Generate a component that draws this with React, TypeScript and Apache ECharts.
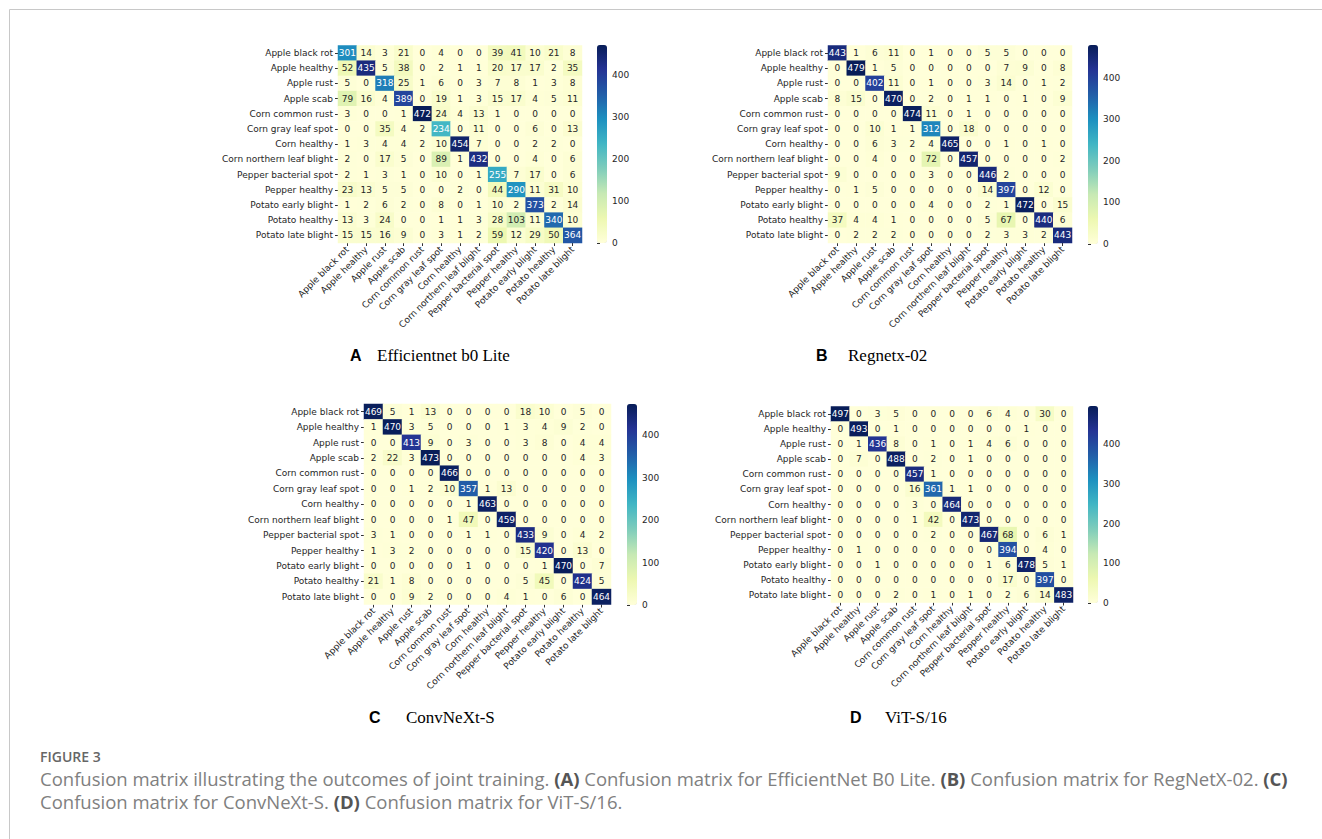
import React, { useEffect, useRef } from "react";
import * as echarts from "echarts";

const CATEGORIES = [
  "Apple black rot", "Apple healthy", "Apple rust", "Apple scab", "Corn common rust",
  "Corn gray leaf spot", "Corn healthy", "Corn northern leaf blight", "Pepper bacterial spot",
  "Pepper healthy", "Potato early blight", "Potato healthy", "Potato late blight",
];

const MATRIX_A = [
  [301, 14, 3, 21, 0, 4, 0, 0, 39, 41, 10, 21, 8],
  [52, 435, 5, 38, 0, 2, 1, 1, 20, 17, 17, 2, 35],
  [5, 0, 318, 25, 1, 6, 0, 3, 7, 8, 1, 3, 8],
  [79, 16, 4, 389, 0, 19, 1, 3, 15, 17, 4, 5, 11],
  [3, 0, 0, 1, 472, 24, 4, 13, 1, 0, 0, 0, 0],
  [0, 0, 35, 4, 2, 234, 0, 11, 0, 0, 6, 0, 13],
  [1, 3, 4, 4, 2, 10, 454, 7, 0, 0, 2, 2, 0],
  [2, 0, 17, 5, 0, 89, 1, 432, 0, 0, 4, 0, 6],
  [2, 1, 3, 1, 0, 10, 0, 1, 255, 7, 17, 0, 6],
  [23, 13, 5, 5, 0, 0, 2, 0, 44, 290, 11, 31, 10],
  [1, 2, 6, 2, 0, 8, 0, 1, 10, 2, 373, 2, 14],
  [13, 3, 24, 0, 0, 1, 1, 3, 28, 103, 11, 340, 10],
  [15, 15, 16, 9, 0, 3, 1, 2, 59, 12, 29, 50, 364],
];

const MATRIX_B = [
  [443, 1, 6, 11, 0, 1, 0, 0, 5, 5, 0, 0, 0],
  [0, 479, 1, 5, 0, 0, 0, 0, 0, 7, 9, 0, 8],
  [0, 0, 402, 11, 0, 1, 0, 0, 3, 14, 0, 1, 2],
  [8, 15, 0, 470, 0, 2, 0, 1, 1, 0, 1, 0, 9],
  [0, 0, 0, 0, 474, 11, 0, 1, 0, 0, 0, 0, 0],
  [0, 0, 10, 1, 1, 312, 0, 18, 0, 0, 0, 0, 0],
  [0, 0, 6, 3, 2, 4, 465, 0, 0, 1, 0, 1, 0],
  [0, 0, 4, 0, 0, 72, 0, 457, 0, 0, 0, 0, 2],
  [9, 0, 0, 0, 0, 3, 0, 0, 446, 2, 0, 0, 0],
  [0, 1, 5, 0, 0, 0, 0, 0, 14, 397, 0, 12, 0],
  [0, 0, 0, 0, 0, 4, 0, 0, 2, 1, 472, 0, 15],
  [37, 4, 4, 1, 0, 0, 0, 0, 5, 67, 0, 440, 6],
  [0, 2, 2, 2, 0, 0, 0, 0, 2, 3, 3, 2, 443],
];

const MATRIX_C = [
  [469, 5, 1, 13, 0, 0, 0, 0, 18, 10, 0, 5, 0],
  [1, 470, 3, 5, 0, 0, 0, 1, 3, 4, 9, 2, 0],
  [0, 0, 413, 9, 0, 3, 0, 0, 3, 8, 0, 4, 4],
  [2, 22, 3, 473, 0, 0, 0, 0, 0, 0, 0, 4, 3],
  [0, 0, 0, 0, 466, 0, 0, 0, 0, 0, 0, 0, 0],
  [0, 0, 1, 2, 10, 357, 1, 13, 0, 0, 0, 0, 0],
  [0, 0, 0, 0, 0, 1, 463, 0, 0, 0, 0, 0, 0],
  [0, 0, 0, 0, 1, 47, 0, 459, 0, 0, 0, 0, 0],
  [3, 1, 0, 0, 0, 1, 1, 0, 433, 9, 0, 4, 2],
  [1, 3, 2, 0, 0, 0, 0, 0, 15, 420, 0, 13, 0],
  [0, 0, 0, 0, 0, 1, 0, 0, 0, 1, 470, 0, 7],
  [21, 1, 8, 0, 0, 0, 0, 0, 5, 45, 0, 424, 5],
  [0, 0, 9, 2, 0, 0, 0, 4, 1, 0, 6, 0, 464],
];

const MATRIX_D = [
  [497, 0, 3, 5, 0, 0, 0, 0, 6, 4, 0, 30, 0],
  [0, 493, 0, 1, 0, 0, 0, 0, 0, 0, 1, 0, 0],
  [0, 1, 436, 8, 0, 1, 0, 1, 4, 6, 0, 0, 0],
  [0, 7, 0, 488, 0, 2, 0, 1, 0, 0, 0, 0, 0],
  [0, 0, 0, 0, 457, 1, 0, 0, 0, 0, 0, 0, 0],
  [0, 0, 0, 0, 16, 361, 1, 1, 0, 0, 0, 0, 0],
  [0, 0, 0, 0, 3, 0, 464, 0, 0, 0, 0, 0, 0],
  [0, 0, 0, 0, 1, 42, 0, 473, 0, 0, 0, 0, 0],
  [0, 0, 0, 0, 0, 2, 0, 0, 467, 68, 0, 6, 1],
  [0, 1, 0, 0, 0, 0, 0, 0, 0, 394, 0, 4, 0],
  [0, 0, 1, 0, 0, 0, 0, 0, 1, 6, 478, 5, 1],
  [0, 0, 0, 0, 0, 0, 0, 0, 0, 17, 0, 397, 0],
  [0, 0, 0, 2, 0, 1, 0, 1, 0, 2, 6, 14, 483],
];

const COLORBAR_TICKS = [0, 100, 200, 300, 400];

const PANEL_LETTERS = ["A", "B", "C", "D"];
const PANEL_NAMES = ["Efficientnet b0 Lite", "Regnetx-02", "ConvNeXt-S", "ViT-S/16"];

const CAPTION_TITLE = "FIGURE 3";
const CAPTION_LINE_1 =
  "Confusion matrix illustrating the outcomes of joint training. {b|(A)} Confusion matrix for EfficientNet B0 Lite. {b|(B)} Confusion matrix for RegNetX-02. {b|(C)}";
const CAPTION_LINE_2 = "Confusion matrix for ConvNeXt-S. {b|(D)} Confusion matrix for ViT-S/16.";

// layout (styling only)
const LAYOUT = [
  { grid: { left: 338, top: 45.5, width: 244, height: 197.5 }, cbar: { left: 597, top: 45, height: 198 }, letterX: 350, nameX: 377, labelY: 355 },
  { grid: { left: 828, top: 45.5, width: 244, height: 197.5 }, cbar: { left: 1088, top: 45, height: 199 }, letterX: 816, nameX: 848, labelY: 355 },
  { grid: { left: 364, top: 404, width: 247, height: 200.5 }, cbar: { left: 627, top: 404, height: 201 }, letterX: 369, nameX: 406, labelY: 717 },
  { grid: { left: 831, top: 406.5, width: 242, height: 196 }, cbar: { left: 1088, top: 406, height: 197 }, letterX: 850, nameX: 885, labelY: 717 },
];

const YLGNBU = ["#ffffd9", "#edf8b1", "#c7e9b4", "#7fcdbb", "#41b6c4", "#1d91c0", "#225ea8", "#253494", "#081d58"];

const FONT = "DejaVu Sans";

function hexToRgb(h: string) {
  return [parseInt(h.slice(1, 3), 16), parseInt(h.slice(3, 5), 16), parseInt(h.slice(5, 7), 16)];
}

function cmap(t: number) {
  const tt = Math.max(0, Math.min(1, t)) * (YLGNBU.length - 1);
  const i = Math.min(Math.floor(tt), YLGNBU.length - 2);
  const f = tt - i;
  const a = hexToRgb(YLGNBU[i]);
  const b = hexToRgb(YLGNBU[i + 1]);
  return a.map((v, k) => v + (b[k] - v) * f);
}

function textColor(v: number, max: number) {
  const rgb = cmap(v / max).map((c) => {
    const s = c / 255;
    return s <= 0.03928 ? s / 12.92 : Math.pow((s + 0.055) / 1.055, 2.4);
  });
  const lum = 0.2126 * rgb[0] + 0.7152 * rgb[1] + 0.0722 * rgb[2];
  return lum > 0.408 ? "#262626" : "#ffffff";
}

const MATRICES = [MATRIX_A, MATRIX_B, MATRIX_C, MATRIX_D];

function buildOption() {
  const grids: any[] = [];
  const xAxes: any[] = [];
  const yAxes: any[] = [];
  const series: any[] = [];
  const visualMaps: any[] = [];
  const graphics: any[] = [];

  MATRICES.forEach((m, i) => {
    const L = LAYOUT[i];
    const max = Math.max(...m.map((r) => Math.max(...r)));
    grids.push({ ...L.grid, containLabel: false });
    xAxes.push({
      type: "category",
      gridIndex: i,
      data: CATEGORIES,
      axisLine: { show: false },
      axisTick: { show: true, alignWithLabel: true, length: 3, lineStyle: { color: "#333", width: 1 } },
      axisLabel: { interval: 0, rotate: 45, fontSize: 9, fontFamily: FONT, color: "#262626", margin: 5 },
      splitLine: { show: false },
      splitArea: { show: false },
    });
    yAxes.push({
      type: "category",
      gridIndex: i,
      data: CATEGORIES,
      inverse: true,
      axisLine: { show: false },
      axisTick: { show: true, alignWithLabel: true, length: 3, lineStyle: { color: "#333", width: 1 } },
      axisLabel: { interval: 0, fontSize: 9, fontFamily: FONT, color: "#262626", margin: 5 },
      splitLine: { show: false },
      splitArea: { show: false },
    });
    const data: any[] = [];
    m.forEach((row, r) =>
      row.forEach((v, c) => {
        data.push({ value: [c, r, v], label: { color: textColor(v, max) } });
      })
    );
    series.push({
      type: "heatmap",
      xAxisIndex: i,
      yAxisIndex: i,
      data,
      label: { show: true, fontSize: 9, fontFamily: FONT },
      itemStyle: { borderWidth: 0 },
      emphasis: { disabled: true },
    });
    visualMaps.push({
      type: "continuous",
      seriesIndex: i,
      min: 0,
      max,
      calculable: false,
      orient: "vertical",
      left: L.cbar.left,
      top: L.cbar.top,
      itemWidth: 10,
      itemHeight: L.cbar.height,
      padding: 0,
      showLabel: false,
      hoverLink: false,
      inRange: { color: YLGNBU },
    });
  });

  MATRICES.forEach((m, i) => {
    const L = LAYOUT[i];
    const max = Math.max(...m.map((r) => Math.max(...r)));
    const gi = 4 + i;
    grids.push({ left: L.cbar.left, top: L.cbar.top, width: 10, height: L.cbar.height, containLabel: false });
    xAxes.push({ type: "value", gridIndex: gi, show: false, min: 0, max: 1 });
    yAxes.push({
      type: "value",
      gridIndex: gi,
      min: 0,
      max,
      position: "right",
      axisLine: { show: false },
      splitLine: { show: false },
      axisTick: { show: true, length: 3, customValues: COLORBAR_TICKS, lineStyle: { color: "#333" } },
      axisLabel: { fontSize: 9, fontFamily: FONT, color: "#262626", margin: 5, customValues: COLORBAR_TICKS },
    });
  });

  // frame
  graphics.push({ type: "line", shape: { x1: 9.5, y1: 9.5, x2: 1322, y2: 9.5 }, style: { stroke: "#c8c8c8", lineWidth: 1 }, silent: true });
  graphics.push({ type: "line", shape: { x1: 9.5, y1: 9.5, x2: 9.5, y2: 839 }, style: { stroke: "#c8c8c8", lineWidth: 1 }, silent: true });

  LAYOUT.forEach((L, i) => {
    graphics.push({
      type: "text",
      x: L.letterX,
      y: L.labelY,
      style: { text: PANEL_LETTERS[i], font: "bold 16px 'Liberation Sans', Arial, sans-serif", fill: "#000", textVerticalAlign: "middle" },
    });
    graphics.push({
      type: "text",
      x: L.nameX,
      y: L.labelY,
      style: { text: PANEL_NAMES[i], font: "17px 'Liberation Serif', serif", fill: "#000", textVerticalAlign: "middle" },
    });
  });

  graphics.push({
    type: "text",
    x: 40,
    y: 756,
    style: { text: CAPTION_TITLE, font: "600 14px 'Open Sans', sans-serif", fill: "#666", textVerticalAlign: "middle" },
  });
  const rich = { b: { fontWeight: "bold", fill: "#555", fontSize: 18.5, fontFamily: "Open Sans" } };
  graphics.push({
    type: "text",
    x: 40,
    y: 778,
    style: { text: CAPTION_LINE_1, font: "18.5px 'Open Sans', sans-serif", fill: "#808080", textVerticalAlign: "middle", rich },
  });
  graphics.push({
    type: "text",
    x: 40,
    y: 801,
    style: { text: CAPTION_LINE_2, font: "18.5px 'Open Sans', sans-serif", fill: "#808080", textVerticalAlign: "middle", rich },
  });

  return {
    animation: false,
    backgroundColor: "#ffffff",
    grid: grids,
    xAxis: xAxes,
    yAxis: yAxes,
    visualMap: visualMaps,
    series,
    graphic: graphics,
  };
}

export default function App() {
  const ref = useRef<HTMLDivElement>(null);
  useEffect(() => {
    if (!ref.current) return;
    const chart = echarts.init(ref.current, undefined, { renderer: "svg" });
    chart.setOption(buildOption() as any);
    return () => chart.dispose();
  }, []);
  return <div ref={ref} style={{ position: "fixed", left: 0, top: 0, width: 1322, height: 839, background: "#fff" }} />;
}
